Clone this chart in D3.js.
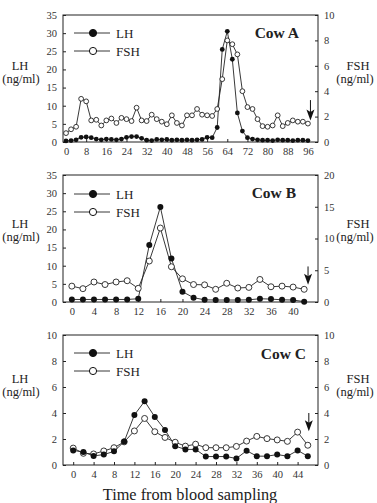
<!DOCTYPE html>
<html lang="en">

<head>
    <meta charset="UTF-8">
    <title>LH and FSH profiles</title>
    <script src="https://d3js.org/d3.v7.min.js"></script>
    <style>
        body { margin: 0; background: #fff; }
        svg { display: block; }
    </style>
</head>

<body>
    <div id="chart"></div>

    <script>
        // Cow A: samples every 2 h
        const timeA = [0, 2, 4, 6, 8, 10, 12, 14, 16, 18, 20, 22, 24, 26, 28, 30, 32, 34, 36, 38, 40, 42, 44, 46, 48,
            50, 52, 54, 56, 58, 60, 62, 64, 66, 68, 70, 72, 74, 76, 78, 80, 82, 84, 86, 88, 90, 92, 94, 96];
        const lhA = [0.3, 0.4, 0.6, 1.3, 1.4, 1.2, 0.8, 0.6, 0.8, 0.7, 0.6, 0.8, 1.3, 1.5, 1.5, 1.0, 0.5, 0.4, 0.7, 0.6,
            0.7, 0.5, 0.6, 0.5, 0.6, 0.5, 0.6, 0.7, 1.3, 1.2, 4.0, 25.5, 30.5, 22.8, 8.0, 3.0, 1.2, 0.8, 0.6, 0.5,
            0.5, 0.4, 0.6, 0.5, 0.5, 0.4, 0.5, 0.5, 0.4];
        const fshA = [0.7, 1.0, 1.2, 3.4, 3.2, 1.7, 1.75, 1.3, 1.7, 1.85, 1.5, 1.9, 1.8, 1.65, 2.7, 1.7, 1.65, 2.15, 1.8, 1.6,
            1.4, 2.1, 1.5, 1.3, 2.1, 2.1, 2.6, 2.15, 2.1, 2.05, 2.6, 4.95, 8.0, 7.7, 6.9, 4.0, 2.75, 2.6, 1.8, 1.25,
            1.2, 1.3, 2.1, 1.25, 1.5, 1.7, 1.6, 1.6, 1.45];
        const arrowA = { t: 97, from: 3.3, to: 1.7 };

        // Cow B
        const timeB = [0, 2, 4, 6, 8, 10, 12, 14, 16, 18, 20, 22, 24, 26, 28, 30, 32, 34, 36, 38, 40, 42];
        const lhB = [0.7, 0.7, 0.7, 0.7, 0.7, 0.7, 0.9, 15.7, 26.2, 12.0, 2.85, 1.2, 0.6, 0.55, 0.55, 0.55, 0.6, 0.9,
            0.8, 0.6, 0.55, 0.1];
        const fshB = [2.5, 2.1, 3.15, 2.75, 3.15, 3.35, 2.15, 6.45, 11.65, 5.55, 3.65, 2.75, 2.7, 2.0, 2.95, 2.2, 2.3,
            3.55, 2.4, 2.5, 2.35, 2.0];
        const arrowB = { t: 42.7, from: 5.6, to: 2.7 };

        // Cow C
        const timeC = [0, 2, 4, 6, 8, 10, 12, 14, 16, 18, 20, 22, 24, 26, 28, 30, 32, 34, 36, 38, 40, 42, 44, 46];
        const lhC = [1.12, 1.0, 0.7, 0.8, 1.05, 1.8, 3.85, 4.9, 3.7, 2.7, 1.45, 1.2, 1.2, 0.65, 0.65, 0.65, 0.5, 1.1,
            0.68, 0.68, 0.8, 0.68, 1.12, 0.68];
        const fshC = [1.3, 0.9, 0.85, 1.08, 1.33, 1.78, 2.62, 3.58, 2.56, 2.12, 1.75, 1.45, 1.6, 1.33, 1.33, 1.33, 1.43,
            1.84, 2.2, 2.03, 1.93, 1.82, 2.53, 1.52];
        const arrowC = { t: 46.2, from: 4.0, to: 2.6 };

        // tick labels
        const xTicksA = [0, 8, 16, 24, 32, 40, 48, 56, 64, 72, 80, 88, 96];
        const xTicksB = [0, 4, 8, 12, 16, 20, 24, 28, 32, 36, 40];
        const xTicksC = [0, 4, 8, 12, 16, 20, 24, 28, 32, 36, 40, 44];
        const lhTicksAB = [0, 5, 10, 15, 20, 25, 30, 35];
        const lhTicksC = [0, 2, 4, 6, 8, 10];
        const fshTicksA = [0, 2, 4, 6, 8, 10];
        const fshTicksB = [0, 5, 10, 15, 20];
        const fshTicksC = [0, 2, 4, 6, 8, 10];

        const width = 377;
        const height = 503;
        const serif = "'Liberation Serif', 'DejaVu Serif', serif";

        const svg = d3.select("#chart")
            .append("svg")
            .attr("width", width)
            .attr("height", height)
            .attr("font-family", serif);

        const panels = [
            {
                name: "Cow A", time: timeA, lh: lhA, fsh: fshA, arrow: arrowA,
                top: 15, bottom: 142, xDomain: [-1.2, 100], lhMax: 35, fshMax: 10,
                xTicks: xTicksA, lhTicks: lhTicksAB, fshTicks: fshTicksA,
                r: 2.4, legendY: 33, labelY: 70, nameX: 299, nameY: 38
            },
            {
                name: "Cow B", time: timeB, lh: lhB, fsh: fshB, arrow: arrowB,
                top: 175, bottom: 302, xDomain: [-1.6, 44.5], lhMax: 35, fshMax: 20,
                xTicks: xTicksB, lhTicks: lhTicksAB, fshTicks: fshTicksB,
                r: 3, legendY: 194, labelY: 228, nameX: 296, nameY: 198
            },
            {
                name: "Cow C", time: timeC, lh: lhC, fsh: fshC, arrow: arrowC,
                top: 335, bottom: 465, xDomain: [-2, 48], lhMax: 10, fshMax: 10,
                xTicks: xTicksC, lhTicks: lhTicksC, fshTicks: fshTicksC,
                r: 3, legendY: 353, labelY: 383, nameX: 306, nameY: 359
            }
        ];

        const left = 63;
        const right = 318;

        panels.forEach(p => {
            const x = d3.scaleLinear().domain(p.xDomain).range([left, right]);
            const yL = d3.scaleLinear().domain([0, p.lhMax]).range([p.bottom, p.top]);
            const yR = d3.scaleLinear().domain([0, p.fshMax]).range([p.bottom, p.top]);

            const g = svg.append("g");

            // frame
            g.append("rect")
                .attr("x", left).attr("y", p.top)
                .attr("width", right - left).attr("height", p.bottom - p.top)
                .attr("fill", "none").attr("stroke", "#222").attr("stroke-width", 1);

            // axes, ticks inside the frame
            const axL = g.append("g").attr("transform", `translate(${left},0)`)
                .call(d3.axisLeft(yL).tickValues(p.lhTicks).tickSizeInner(-3).tickSizeOuter(0).tickPadding(6));
            const axR = g.append("g").attr("transform", `translate(${right},0)`)
                .call(d3.axisRight(yR).tickValues(p.fshTicks).tickSizeInner(-3).tickSizeOuter(0).tickPadding(6));
            const axX = g.append("g").attr("transform", `translate(0,${p.bottom})`)
                .call(d3.axisBottom(x).tickValues(p.xTicks).tickSizeInner(-3).tickSizeOuter(0).tickPadding(6));

            [axL, axR, axX].forEach(ax => {
                ax.select(".domain").remove();
                ax.selectAll("line").attr("stroke", "#222");
                ax.selectAll("text").attr("font-family", serif).attr("font-size", 10.5).attr("fill", "#333");
            });

            // axis titles
            const titles = [["LH", 20, 21], ["FSH", 358, 355]];
            titles.forEach(([t, cx, cx2]) => {
                const txt = g.append("text")
                    .attr("text-anchor", "middle")
                    .attr("font-size", 12.5)
                    .attr("fill", "#222");
                txt.append("tspan").attr("x", cx).attr("y", p.labelY).text(t);
                txt.append("tspan").attr("x", cx2).attr("y", p.labelY + 13).text("(ng/ml)");
            });

            // series lines
            const lhLine = d3.line().x((d, i) => x(p.time[i])).y(d => yL(d));
            const fshLine = d3.line().x((d, i) => x(p.time[i])).y(d => yR(d));

            g.append("path").attr("d", fshLine(p.fsh))
                .attr("fill", "none").attr("stroke", "#222").attr("stroke-width", 0.9);
            g.append("path").attr("d", lhLine(p.lh))
                .attr("fill", "none").attr("stroke", "#222").attr("stroke-width", 0.9);

            g.append("g").selectAll("circle")
                .data(p.fsh)
                .join("circle")
                .attr("cx", (d, i) => x(p.time[i]))
                .attr("cy", d => yR(d))
                .attr("r", p.r)
                .attr("fill", "#fff")
                .attr("stroke", "#222")
                .attr("stroke-width", 0.9);

            g.append("g").selectAll("circle")
                .data(p.lh)
                .join("circle")
                .attr("cx", (d, i) => x(p.time[i]))
                .attr("cy", d => yL(d))
                .attr("r", p.r)
                .attr("fill", "#111");

            // arrow
            const ax = x(p.arrow.t);
            const yTop = yR(p.arrow.from);
            const yTip = yR(p.arrow.to);
            g.append("line")
                .attr("x1", ax).attr("x2", ax)
                .attr("y1", yTop).attr("y2", yTip - 8)
                .attr("stroke", "#111").attr("stroke-width", 1);
            g.append("path")
                .attr("d", `M${ax - 4},${yTip - 11}L${ax},${yTip - 8.5}L${ax + 4},${yTip - 11}L${ax},${yTip}Z`)
                .attr("fill", "#111");

            // legend
            const legend = [["LH", "#111", 0], ["FSH", "#fff", 18]];
            legend.forEach(([label, fill, dy]) => {
                const ly = p.legendY + dy;
                g.append("line")
                    .attr("x1", 74).attr("x2", 110)
                    .attr("y1", ly).attr("y2", ly)
                    .attr("stroke", "#222").attr("stroke-width", 0.9);
                g.append("circle")
                    .attr("cx", 93).attr("cy", ly).attr("r", 3.6)
                    .attr("fill", fill).attr("stroke", "#111").attr("stroke-width", 1);
                g.append("text")
                    .attr("x", 116).attr("y", ly + 4.5)
                    .attr("font-size", 13)
                    .attr("fill", "#222")
                    .text(label);
            });

            // cow name
            g.append("text")
                .attr("x", p.nameX).attr("y", p.nameY)
                .attr("text-anchor", "end")
                .attr("font-size", 15.5)
                .attr("font-weight", "bold")
                .attr("fill", "#222")
                .text(p.name);
        });

        svg.append("text")
            .attr("x", 190).attr("y", 500)
            .attr("text-anchor", "middle")
            .attr("font-size", 16.3)
            .attr("fill", "#222")
            .text("Time from blood sampling");
    </script>
</body>

</html>
